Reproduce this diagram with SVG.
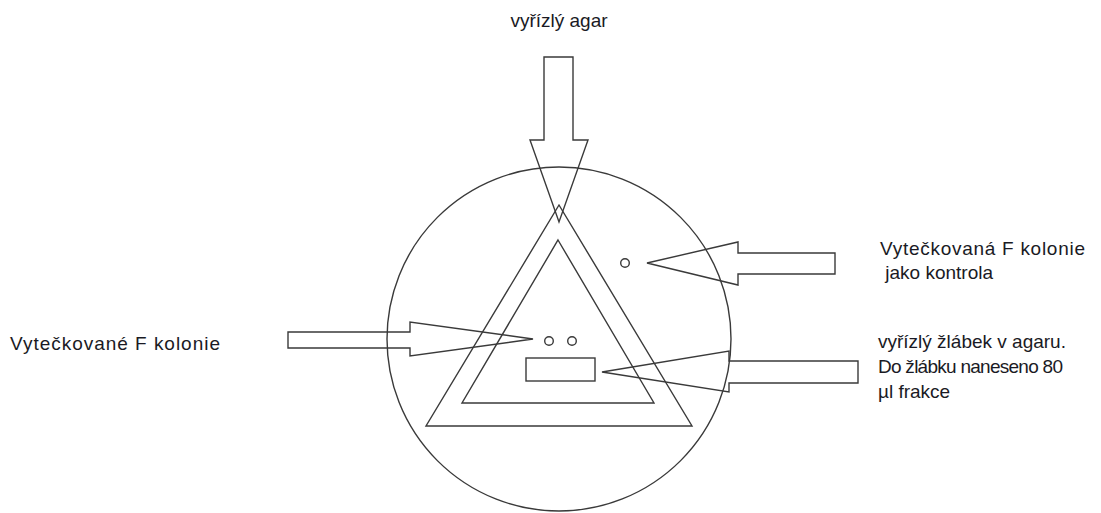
<svg xmlns="http://www.w3.org/2000/svg" width="1101" height="513" viewBox="0 0 1101 513">
<style>
.ln{fill:none;stroke:#3a3a3a;stroke-width:1.4;stroke-linejoin:miter}
.tx{font-family:"Liberation Sans",Arial,sans-serif;font-size:19px;fill:#1a1a24}
</style>
<rect width="1101" height="513" fill="#fff"/>
<g id="plate">
<circle class="ln" cx="559" cy="339" r="172"/>
</g>
<g id="outer-triangle">
<polygon class="ln" points="559,205 692,426 426,426"/>
</g>
<g id="inner-triangle">
<polygon class="ln" points="558,240 654,403 462,403"/>
</g>
<g id="groove">
<rect class="ln" x="526" y="358" width="69" height="23"/>
</g>
<g id="colonies">
<circle class="ln" cx="549" cy="341" r="4.3"/>
<circle class="ln" cx="572" cy="341" r="4.3"/>
</g>
<g id="control">
<circle class="ln" cx="625" cy="263" r="4.3"/>
</g>
<g id="connectors">
<polygon class="ln" points="544,57 573,57 573,140 588,140 559,222 530,140 544,140"/>
<polygon class="ln" points="647,263 738,242 738,253 835,253 835,274 738,274 738,285"/>
<polygon class="ln" points="288,332 410,332 410,322 533,339 410,356 410,348 288,348"/>
<polygon class="ln" points="602,372 729,351 729,361 858,361 858,383 729,383 729,392"/>
</g>
<g id="labels">
<text class="tx" x="559" y="27" text-anchor="middle">vyřízlý agar</text>
<text class="tx" x="10" y="350" textLength="210">Vytečkované F kolonie</text>
<text class="tx" x="880" y="255" textLength="205">Vytečkovaná F kolonie</text>
<text class="tx" x="880" y="279" xml:space="preserve"> jako kontrola</text>
<text class="tx" x="878" y="348">vyřízlý žlábek v agaru.</text>
<text class="tx" x="878" y="373" textLength="185">Do žlábku naneseno 80</text>
<text class="tx" x="878" y="398">µl frakce</text>
</g>
</svg>
